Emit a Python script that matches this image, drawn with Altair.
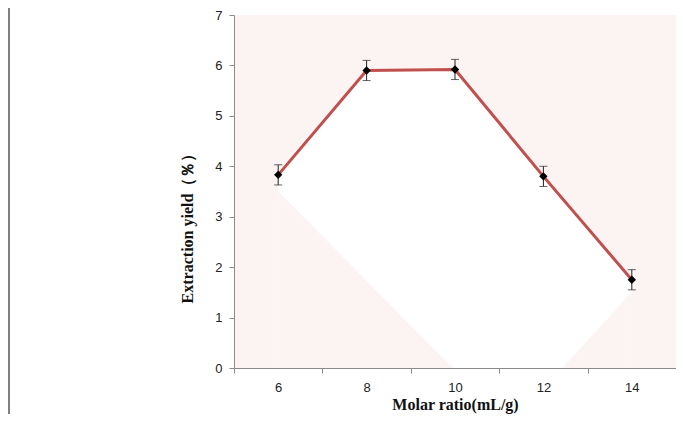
import altair as alt
import pandas as pd

ratio = [6, 8, 10, 12, 14]
yield_pct = [3.83, 5.90, 5.92, 3.80, 1.75]
err = [0.20, 0.20, 0.20, 0.20, 0.20]

# faint background shading (pink zones below the curve)
shade_left_x = [6, 9.95]
shade_left_y = [3.5, 0]
shade_right_x = [12.43, 14]
shade_right_y = [0, 1.5]

df = pd.DataFrame({"x": ratio, "y": yield_pct, "e": err})
df["lo"] = df["y"] - df["e"]
df["hi"] = df["y"] + df["e"]

shade = pd.DataFrame({
    "x": shade_left_x + shade_right_x,
    "y": shade_left_y + shade_right_y,
    "part": ["l"] * len(shade_left_x) + ["r"] * len(shade_right_x),
})

PINK = "#fcf3f3"
AXC = "#8a8a8a"

xscale = alt.Scale(domain=[5, 15], nice=False, zero=False)
yscale = alt.Scale(domain=[0, 7], nice=False)

xaxis = alt.Axis(
    values=[5, 6, 7, 8, 9, 10, 11, 12, 13, 14, 15],
    labelExpr="datum.value % 2 == 0 ? datum.label : ''",
    tickColor={"condition": {"test": "datum.value % 2 == 1", "value": AXC}, "value": "transparent"},
    tickSize=5, grid=False, domainColor=AXC, labelFont="Liberation Sans", labelFontSize=13,
    labelColor="#222", labelPadding=8, title="Molar ratio(mL/g)", titleFont="Liberation Serif",
    titleFontSize=16, titleFontWeight="bold", titleColor="#111",
    titleY=41, titleBaseline="alphabetic",
)
yaxis = alt.Axis(
    values=[0, 1, 2, 3, 4, 5, 6, 7], tickSize=5, tickColor=AXC, grid=False, domainColor=AXC,
    labelFont="Liberation Sans", labelFontSize=13, labelColor="#222", labelPadding=7,
    title="Extraction  yield（％）", titleFont="Liberation Serif", titleFontSize=16,
    titleFontWeight="bold", titleColor="#111", titleAngle=-90, titleX=-47, titleY=209,
    titleAlign="center", titleBaseline="middle",
)

base = alt.Chart(df)

white = base.mark_area(color="white", opacity=1).encode(
    x=alt.X("x:Q", scale=xscale, axis=xaxis),
    y=alt.Y("y:Q", scale=yscale, axis=yaxis),
    y2=alt.datum(0),
)

pinks = alt.Chart(shade).mark_area(color=PINK, opacity=1).encode(
    x=alt.X("x:Q", scale=xscale),
    y=alt.Y("y:Q", scale=yscale),
    y2=alt.datum(0),
    detail="part:N",
)

line = base.mark_line(color="#c0504d", strokeWidth=3).encode(
    x=alt.X("x:Q", scale=xscale), y=alt.Y("y:Q", scale=yscale)
)

bars = base.mark_rule(color="#222", strokeWidth=1).encode(
    x=alt.X("x:Q", scale=xscale), y=alt.Y("lo:Q", scale=yscale), y2="hi:Q"
)
caps_hi = base.mark_tick(color="#222", orient="horizontal", size=8, thickness=1).encode(
    x=alt.X("x:Q", scale=xscale), y=alt.Y("hi:Q", scale=yscale)
)
caps_lo = base.mark_tick(color="#222", orient="horizontal", size=8, thickness=1).encode(
    x=alt.X("x:Q", scale=xscale), y=alt.Y("lo:Q", scale=yscale)
)

pts = base.mark_point(shape="diamond", filled=True, color="black", size=70, opacity=1).encode(
    x=alt.X("x:Q", scale=xscale), y=alt.Y("y:Q", scale=yscale)
)

frame = base.mark_rule(color="#808080", strokeWidth=1.5, clip=False).encode(
    x=alt.value(-225), y=alt.value(-7), y2=alt.value(399)
)

chart = alt.layer(white, pinks, line, bars, caps_hi, caps_lo, pts, frame).properties(
    width=442, height=353, autosize="none",
    padding={"left": 226, "top": 7, "right": 0, "bottom": 46},
).configure(background="white").configure_view(fill=PINK, stroke=None)

chart.save("out.html", embed_options={"renderer": "svg", "actions": False})
